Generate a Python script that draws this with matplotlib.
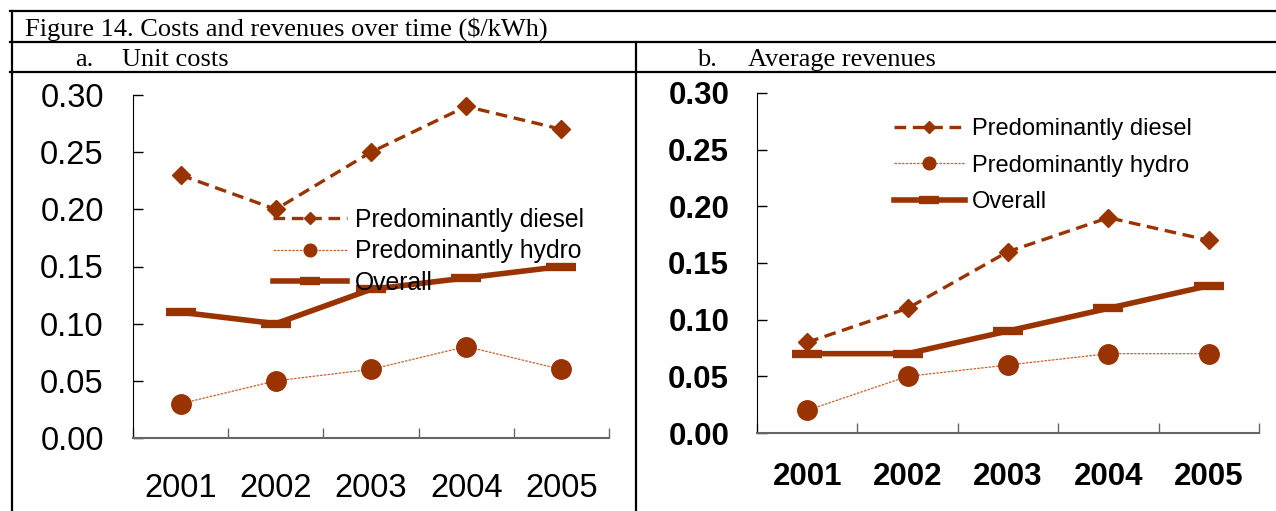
import matplotlib.pyplot as plt
from matplotlib.lines import Line2D

years = ["2001", "2002", "2003", "2004", "2005"]

# a. Unit costs
cost_diesel = [0.23, 0.20, 0.25, 0.29, 0.27]
cost_hydro = [0.03, 0.05, 0.06, 0.08, 0.06]
cost_overall = [0.11, 0.10, 0.13, 0.14, 0.15]

# b. Average revenues
rev_diesel = [0.08, 0.11, 0.16, 0.19, 0.17]
rev_hydro = [0.02, 0.05, 0.06, 0.07, 0.07]
rev_overall = [0.07, 0.07, 0.09, 0.11, 0.13]

yticks = [0.00, 0.05, 0.10, 0.15, 0.20, 0.25, 0.30]

RUST = "#993300"
THIN = "#cc5f2e"
W, H = 1276, 511


def px(x0, y0, x1, y1):
    # pixel box (top-left origin) -> figure fraction rect
    return [x0 / W, 1 - y1 / H, (x1 - x0) / W, (y1 - y0) / H]


def draw_panel(ax, diesel, hydro, overall, bold, tick_fs, xpad, ypad):
    x = list(range(len(years)))
    ax.plot(x, diesel, color=RUST, lw=2.4, ls=(0, (3.5, 2)),
            marker="D", ms=9, label="Predominantly diesel")
    ax.plot(x, hydro, color=THIN, lw=0.9, ls=(0, (2, 1)),
            marker="o", ms=14, mfc=RUST, mec=RUST, label="Predominantly hydro")
    ax.plot(x, overall, color=RUST, lw=4, marker="_", ms=22, mew=6,
            label="Overall")

    ax.set_xlim(-0.5, len(years) - 0.5)
    ax.set_ylim(0, 0.30)
    ax.set_yticks(yticks)
    ax.set_yticklabels(["%.2f" % v for v in yticks])
    ax.set_xticks([i - 0.5 for i in range(len(years) + 1)])
    ax.set_xticklabels([])
    ax.set_xticks(x, minor=True)
    ax.set_xticklabels(years, minor=True)

    weight = "bold" if bold else "normal"
    ax.tick_params(axis="y", direction="in", length=7, width=1,
                   pad=ypad, labelsize=tick_fs)
    ax.tick_params(axis="x", which="major", direction="in", length=7,
                   width=1, color="#666666")
    ax.tick_params(axis="x", which="minor", length=0, pad=xpad,
                   labelsize=tick_fs)
    for lab in ax.get_yticklabels() + ax.get_xticklabels(minor=True):
        lab.set_fontweight(weight)

    ax.spines["top"].set_visible(False)
    ax.spines["right"].set_visible(False)
    ax.spines["left"].set_color("black")
    ax.spines["bottom"].set_color("#666666")
    ax.spines["bottom"].set_linewidth(1.5)


def main():
    plt.rcParams["font.family"] = ["Liberation Sans", "DejaVu Sans"]
    fig = plt.figure(figsize=(W / 100, H / 100), dpi=100)

    ax1 = fig.add_axes(px(133, 95, 609, 438))
    ax2 = fig.add_axes(px(757, 93, 1259, 433))

    draw_panel(ax1, cost_diesel, cost_hydro, cost_overall, False, 23.5, 25, 21)
    draw_panel(ax2, rev_diesel, rev_hydro, rev_overall, True, 22.5, 21, 20)

    ax1.legend(loc="upper left", bbox_to_anchor=(273 / W, 1 - 208 / H),
               bbox_transform=fig.transFigure, frameon=False, fontsize=17.8,
               handlelength=3.0, handletextpad=0.3, labelspacing=0.3,
               borderaxespad=0, borderpad=0, markerscale=0.65)
    ax2.legend(loc="upper left", bbox_to_anchor=(894 / W, 1 - 118 / H),
               bbox_transform=fig.transFigure, frameon=False, fontsize=17,
               handlelength=3.0, handletextpad=0.3, labelspacing=0.62,
               borderaxespad=0, borderpad=0, markerscale=0.65)

    # table-like frame around the figure
    def hline(y, x0=10, x1=W):
        fig.add_artist(Line2D([x0 / W, x1 / W], [1 - y / H, 1 - y / H],
                              color="black", lw=1.6))

    def vline(x, y0, y1=H):
        fig.add_artist(Line2D([x / W, x / W], [1 - y0 / H, 1 - y1 / H],
                              color="black", lw=1.6))

    hline(11)
    hline(42)
    hline(72)
    vline(12, 11)
    vline(636, 42)

    serif = ["Liberation Serif", "DejaVu Serif"]
    fs = 19
    fig.text(25 / W, 1 - 36 / H, "Figure 14. Costs and revenues over time ($/kWh)",
             family=serif, fontsize=fs)
    fig.text(75 / W, 1 - 66 / H, "a.", family=serif, fontsize=fs)
    fig.text(122 / W, 1 - 66 / H, "Unit costs", family=serif, fontsize=fs)
    fig.text(697 / W, 1 - 66 / H, "b.", family=serif, fontsize=fs)
    fig.text(748 / W, 1 - 66 / H, "Average revenues", family=serif, fontsize=fs)

    fig.savefig("out.png", dpi=100)


if __name__ == "__main__":
    main()
